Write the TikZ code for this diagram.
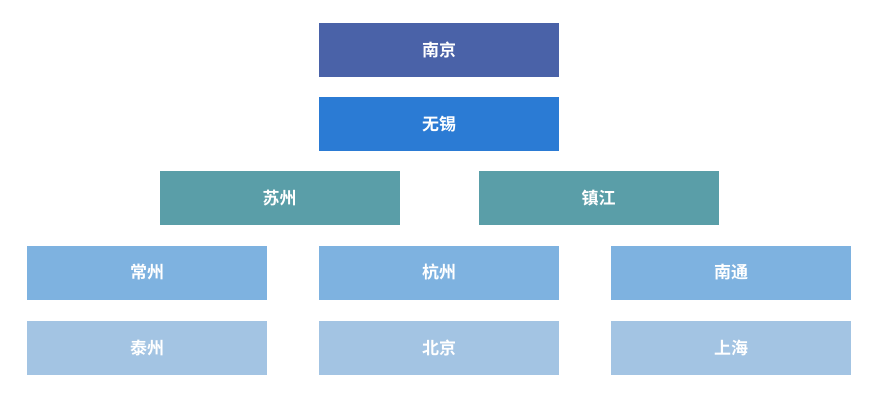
\documentclass[tikz,border=0pt]{standalone}
\usepackage{fontspec}
\newfontfamily\cjk{Noto Sans CJK SC}[BoldFont={* Bold}]
\definecolor{c1}{HTML}{4A62A8}
\definecolor{c2}{HTML}{2B7BD4}
\definecolor{c3}{HTML}{5A9EA8}
\definecolor{c4}{HTML}{7EB2E0}
\definecolor{c5}{HTML}{A3C4E3}
\begin{document}
\begin{tikzpicture}[x=1pt,y=-1pt,
  cell/.style={minimum width=240pt,minimum height=54pt,inner sep=0pt,text=white,font=\cjk\bfseries\fontsize{17}{20}\selectfont}]
\useasboundingbox (0,0) rectangle (877,402);
\node[cell,fill=c1] (nj) at (439,50) {南京};
\node[cell,fill=c2] (wx) at (439,124) {无锡};
\node[cell,fill=c3] (sz) at (279.5,198) {苏州};
\node[cell,fill=c3] (zj) at (598.5,198) {镇江};
\node[cell,fill=c4] (cz) at (147,272.5) {常州};
\node[cell,fill=c4] (hz) at (439,272.5) {杭州};
\node[cell,fill=c4] (nt) at (731,272.5) {南通};
\node[cell,fill=c5] (tz) at (147,347.5) {泰州};
\node[cell,fill=c5] (bj) at (439,347.5) {北京};
\node[cell,fill=c5] (sh) at (731,347.5) {上海};
\end{tikzpicture}
\end{document}
